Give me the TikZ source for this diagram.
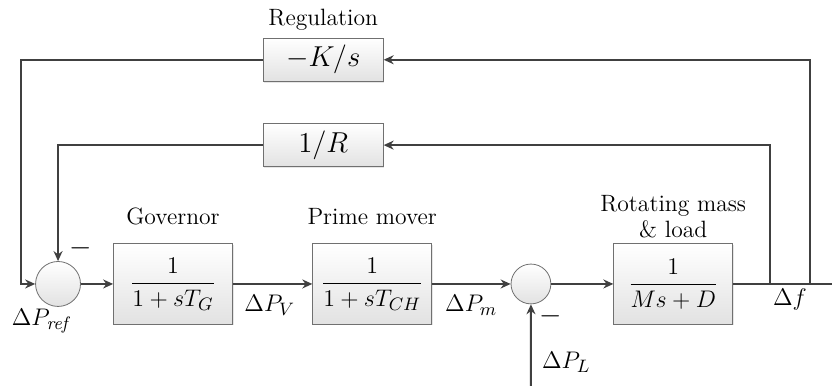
\documentclass[tikz,border=0pt]{standalone}
\usetikzlibrary{arrows.meta,shadows}
\definecolor{wirecol}{HTML}{404040}
\definecolor{edgecol}{HTML}{707070}
\definecolor{fillcol}{HTML}{E2E2E2}
\begin{document}
\begin{tikzpicture}[
  block/.style={rectangle, draw=edgecol, top color=white, bottom color=fillcol, minimum width=2.09cm, minimum height=1.41cm, font=\fontsize{12.5}{14}\selectfont, drop shadow={opacity=0.2, shadow xshift=0.6pt, shadow yshift=-0.6pt}},
  fbblock/.style={block, minimum width=2.11cm, minimum height=0.76cm, font=\fontsize{13.5}{15}\selectfont},
  sum/.style={circle, draw=edgecol, top color=white, bottom color=fillcol, minimum size=0.79cm, inner sep=0pt},
  wire/.style={line width=1pt, draw=wirecol},
  sig/.style={wire, -{Stealth[length=5pt,width=4.5pt]}},
  lbl/.style={font=\fontsize{11.8}{13}\selectfont},
  mlbl/.style={font=\fontsize{12.5}{14}\selectfont},
  node distance=2.5cm
]
\useasboundingbox (-1.02,-1.79) rectangle (13.60,4.99);

% forward path
\node[sum] (sum1) {};
\node[block, right of=sum1, node distance=2.02cm] (gov) {$\displaystyle\frac{1}{1+sT_G}$};
\node[block, right of=gov, node distance=3.5cm] (prime) {$\displaystyle\frac{1}{1+sT_{CH}}$};
\node[sum, minimum size=0.7cm, right of=prime, node distance=2.79cm] (sum2) {};
\node[block, right of=sum2, node distance=2.5cm] (mass) {$\displaystyle\frac{1}{Ms+D}$};

% feedback blocks
\node[fbblock] (kreg) at (4.66,3.94) {$-K/s$};
\node[fbblock] (droop) at (4.66,2.44) {$1/R$};

% titles
\node[lbl, above of=kreg, node distance=0.70cm] (reglbl) {Regulation};
\node[lbl, above of=gov, node distance=1.18cm] (govlbl) {Governor};
\node[lbl, above of=prime, node distance=1.18cm] (primelbl) {Prime mover};
\node[lbl, above of=mass, node distance=1.18cm, align=center] (masslbl) {Rotating mass\\\& load};

% corners and taps
\coordinate (kdown) at (-0.65,0);
\coordinate (tapR) at (12.51,0);
\coordinate (tapK) at (13.22,0);
\coordinate (out) at (13.60,0);
\coordinate (load) at (8.31,-1.79);

\draw[sig] (sum1) -- (gov);
\draw[sig] (gov) -- (prime);
\draw[sig] (prime) -- (sum2);
\draw[sig] (sum2) -- (mass);
\draw[wire] (mass) -- (out);
\draw[sig] (tapK) |- (kreg.east);
\draw[sig] (tapR) |- (droop.east);
\draw[sig] (kreg.west) -| (kdown) -- (sum1.west);
\draw[sig] (droop.west) -| (sum1.north);
\draw[sig] (load) -- (sum2.south);

% signal labels
\node[mlbl] (pv) at (3.72,-0.38) {$\Delta P_V$};
\node[mlbl] (pm) at (7.26,-0.38) {$\Delta P_m$};
\node[mlbl] (df) at (12.86,-0.28) {$\Delta f$};
\node[mlbl] (pref) at (-0.28,-0.65) {$\Delta P_{\mathit{ref}}$};
\node[mlbl] (pl) at (8.93,-1.37) {$\Delta P_L$};
\node[font=\fontsize{14}{16}\selectfont] (minus1) at (0.39,0.63) {$-$};
\node[font=\fontsize{14}{16}\selectfont] (minus2) at (8.65,-0.56) {$-$};
\end{tikzpicture}
\end{document}
